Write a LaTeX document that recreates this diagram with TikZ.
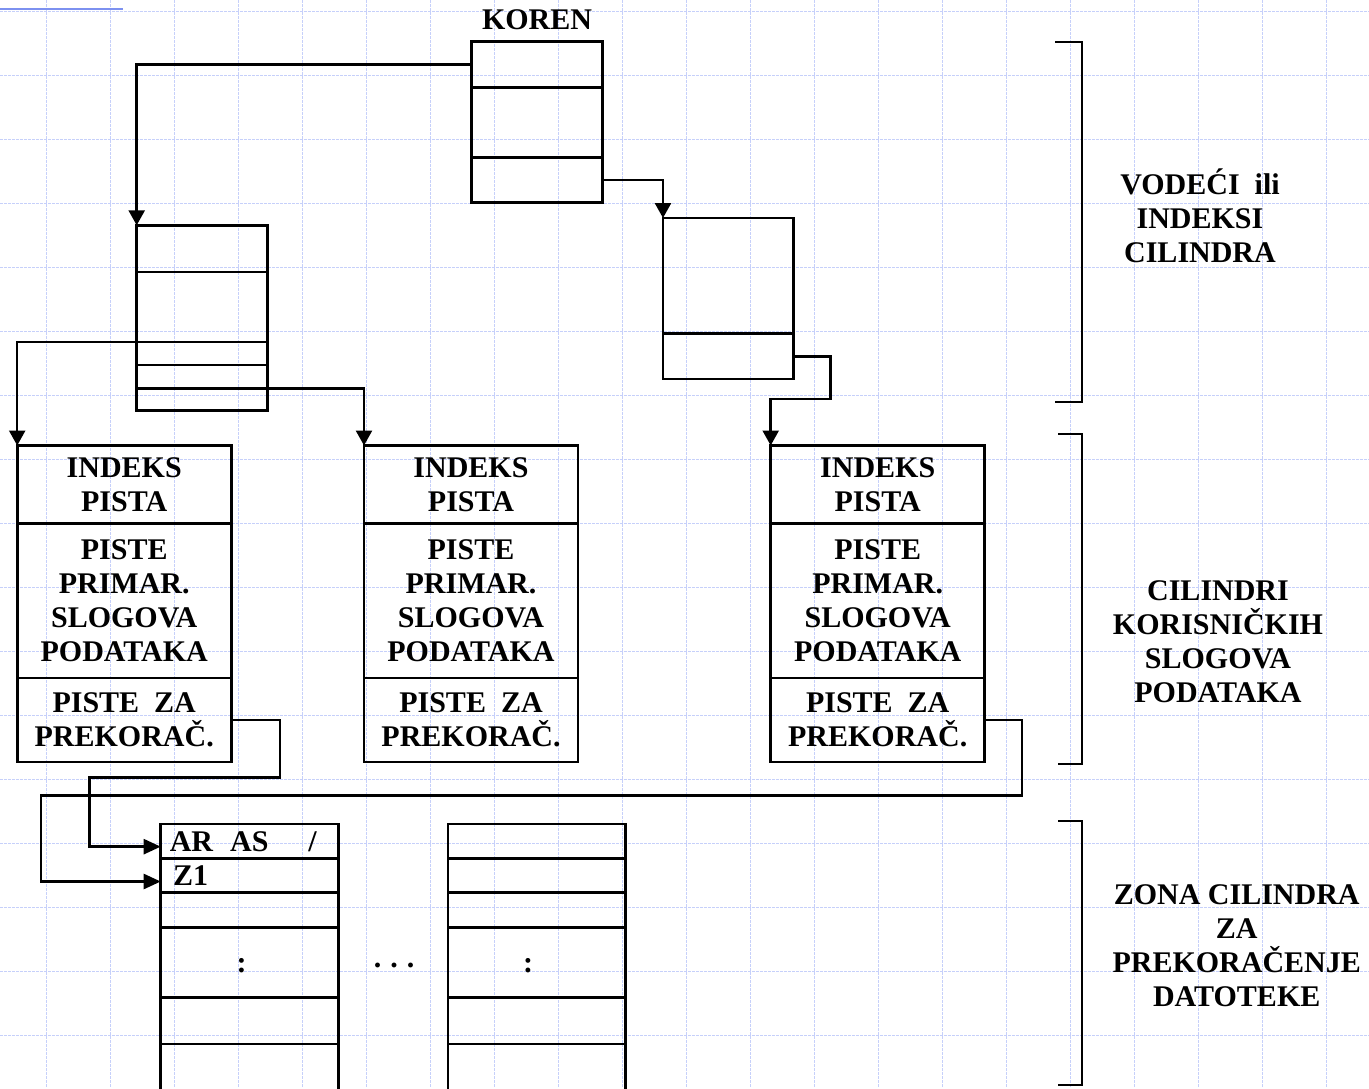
\documentclass[tikz,border=0pt]{standalone}
\usepackage{fontspec}
\setmainfont{Liberation Serif}
\usetikzlibrary{arrows.meta}
\definecolor{gridblue}{RGB}{198,208,250}
\definecolor{topblue}{RGB}{125,145,240}
\newcommand\lblfont{\bfseries\fontsize{30}{34}\selectfont}
\begin{document}
\begin{tikzpicture}[x=1pt,y=-1pt,
  gridline/.style={gridblue, line width=1.5pt, dash pattern=on 2.5pt off 1.5pt},
  cell/.style 2 args={draw, line width=2.6pt, inner sep=0pt, outer sep=0pt,
    anchor=north west, minimum width=#1, minimum height=#2, align=center, font=\lblfont},
  lab/.style={align=center, inner sep=0pt, font=\lblfont},
  conn/.style={line width=2.5pt, line join=miter, -{Triangle[length=15pt,width=16pt]}},
  connr/.style={line width=2.5pt, line join=miter, -{Triangle[length=17pt,width=15pt]}},
  brk/.style={line width=2.3pt, line join=miter}]
% background and page size
\fill[white] (0,0) rectangle (1369,1088);
\useasboundingbox (0,0) rectangle (1369,1088);
% grid
\foreach \i in {0,...,20} \draw[gridline] ({46.5+64*\i},0) -- ({46.5+64*\i},1088);
\foreach \j in {0,...,16} \draw[gridline] (0,{11.5+64*\j}) -- (1369,{11.5+64*\j});
\draw[topblue, line width=2.2pt] (0,8.7) -- (123,8.7);

% KOREN
\node[lab, anchor=base] (koren) at (537,29) {KOREN};
\node[cell={131pt}{46.4pt}] (k1) at (471.3,41.3) {};
\node[cell={131pt}{69.6pt}] (k2) at (471.3,87.7) {};
\node[cell={131pt}{45pt}]   (k3) at (471.3,157.3) {};

% left cylinder index
\node[cell={130.6pt}{46.7pt}] (b2r1) at (136.7,225.3) {};
\node[cell={130.6pt}{70pt}]   (b2r2) at (136.7,272) {};
\node[cell={130.6pt}{23pt}]   (b2r3) at (136.7,342) {};
\node[cell={130.6pt}{23.7pt}] (b2r4) at (136.7,365) {};
\node[cell={130.6pt}{21.6pt}] (b2r5) at (136.7,388.7) {};

% right cylinder index
\node[cell={130.7pt}{115.7pt}] (b3r1) at (663,218) {};
\node[cell={130.7pt}{45.3pt}]  (b3r2) at (663,333.7) {};

% cylinders
\foreach \nm/\x in {b4/17.2, b5/364, b6/770.7}{
  \node[cell={214pt}{78pt}]    (\nm r1) at (\x,445.5) {INDEKS\\PISTA};
  \node[cell={214pt}{154.5pt}] (\nm r2) at (\x,523.5) {PISTE\\PRIMAR.\\SLOGOVA\\PODATAKA};
  \node[cell={214pt}{84pt}]    (\nm r3) at (\x,678) {PISTE~~ZA\\PREKORAČ.};
}

% overflow zone
\foreach \nm/\x in {b7/160.7, b8/447.8}{
  \node[cell={177.7pt}{34.3pt}] (\nm r1) at (\x,824) {};
  \node[cell={177.7pt}{34.4pt}] (\nm r2) at (\x,858.3) {};
  \node[cell={177.7pt}{35pt}]   (\nm r3) at (\x,892.7) {};
  \node[cell={177.7pt}{69.6pt}] (\nm r4) at (\x,927.7) {};
  \node[cell={177.7pt}{46.7pt}] (\nm r5) at (\x,997.3) {};
  \node[cell={177.7pt}{60pt}]   (\nm r6) at (\x,1044) {};
}
\node[lab, anchor=base west] (tar) at (169.6,851.7) {AR\hspace{17pt}AS\hspace{40pt}/};
\node[lab, anchor=base west] (tz) at (173,885.7) {Z1};
\node[lab, anchor=base] (col1) at (241.5,972) {:};
\node[lab, anchor=base] (col2) at (528,972) {:};
\node[lab, anchor=base] (dots) at (394,967.5) {.\hspace{9pt}.\hspace{9pt}.};

% connectors
\draw[conn] (k1.west) -| (b2r1.north west);
\draw[conn] (k3.east) -| (b3r1.north west);
\coordinate (c3a) at (830.7,399);
\draw[conn] (b3r2.east) -| (c3a) -| (b6r1.north west);
\draw[conn] (b2r3.north west) -| (b4r1.north west);
\draw[conn] (b2r5.north east) -| (b5r1.north west);
\coordinate (c6a) at (280,777.7);
\coordinate (c6b) at (89.3,777.7);
\draw[connr] (b4r3.east) -| (c6a) -- (c6b) |- ([yshift=-5.5pt]b7r1.west);
\coordinate (c7a) at (1022,795.7);
\coordinate (c7b) at (41,795.7);
\draw[connr] (b6r3.east) -| (c7a) -- (c7b) |- ([yshift=-6pt]b7r2.west);

% brackets
\draw[brk] (1055,41.7) -- (1081.7,41.7) -- (1081.7,401.7) -- (1055,401.7);
\draw[brk] (1058,434) -- (1081.7,434) -- (1081.7,764.3) -- (1058,764.3);
\draw[brk] (1058,820.7) -- (1081.7,820.7) -- (1081.7,1085) -- (1058,1085);

% side labels
\node[lab] (l1) at (1200,216.2) {VODEĆI~~ili\\INDEKSI\\CILINDRA};
\node[lab] (l2) at (1218,641.5) {CILINDRI\\KORISNIČKIH\\SLOGOVA\\PODATAKA};
\node[lab] (l3) at (1236.7,946) {ZONA CILINDRA\\ZA\\PREKORAČENJE\\DATOTEKE};
\end{tikzpicture}
\end{document}
